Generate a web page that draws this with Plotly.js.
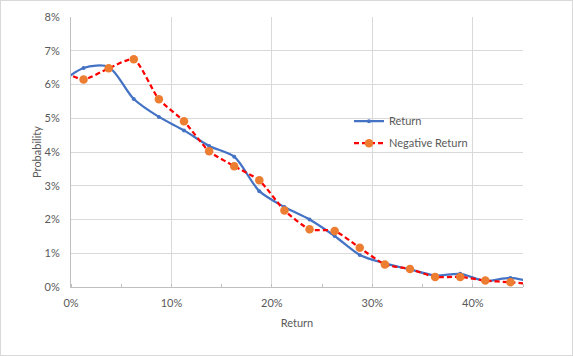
<!DOCTYPE html>
<html>
<head>
<meta charset="utf-8">
<script src="https://cdn.plot.ly/plotly-3.0.1.min.js"></script>
<style>
html,body{margin:0;padding:0;background:#fff;}
#chart{width:573px;height:356px;box-sizing:border-box;border:1px solid #d9d9d9;}
</style>
</head>
<body>
<div id="chart"></div>
<script>
// Return bins (fraction); the first and last bins lie just outside the visible axis range
var returnX = [-0.0125, 0.0125, 0.0375, 0.0625, 0.0875, 0.1125, 0.1375, 0.1625, 0.1875, 0.2125, 0.2375, 0.2625, 0.2875, 0.3125, 0.3375, 0.3625, 0.3875, 0.4125, 0.4375, 0.4625];
// Probability of Return
var returnProb = [0.0600, 0.0649, 0.0652, 0.0557, 0.0504, 0.0464, 0.0418, 0.0386, 0.0284, 0.0237, 0.0200, 0.0151, 0.0095, 0.0070, 0.0052, 0.0034, 0.0039, 0.0018, 0.0027, 0.0012];
// Probability of Negative Return
var negReturnProb = [0.0645, 0.0615, 0.0648, 0.0675, 0.0556, 0.0491, 0.0402, 0.0358, 0.0316, 0.0227, 0.0171, 0.0166, 0.0116, 0.0067, 0.0053, 0.0030, 0.0030, 0.0019, 0.0014, 0.0008];

var yTicks = [0, 0.01, 0.02, 0.03, 0.04, 0.05, 0.06, 0.07, 0.08];
var xTicks = [0, 0.1, 0.2, 0.3, 0.4];

var font = {family: 'Lato, "Open Sans", sans-serif', size: 11, color: '#595959'};

var traces = [
  {
    x: returnX, y: returnProb, name: 'Return', type: 'scatter', mode: 'lines+markers',
    line: {color: '#4472C4', width: 2.25, shape: 'spline', smoothing: 0.8},
    marker: {color: '#4472C4', size: 4},
    legendgroup: 'a'
  },
  {
    x: returnX, y: negReturnProb, name: 'Negative Return', type: 'scatter', mode: 'lines+markers',
    line: {color: '#FF0000', width: 2.25, dash: '5px,3px', shape: 'spline', smoothing: 0.6},
    marker: {color: '#ED7D31', size: 8.5},
    legendgroup: 'b'
  }
];

var layout = {
  width: 571, height: 354,
  margin: {l: 70, r: 49, t: 16, b: 68},
  paper_bgcolor: '#fff', plot_bgcolor: '#fff',
  font: font,
  showlegend: true,
  legend: {x: 0.615, y: 0.668, xanchor: 'left', yanchor: 'top', bgcolor: 'rgba(0,0,0,0)',
           font: font, tracegroupgap: 3, traceorder: 'grouped'},
  xaxis: {
    range: [0, 0.45], tickvals: xTicks, tickformat: '.0%',
    showgrid: true, gridcolor: '#d9d9d9', gridwidth: 1,
    showline: true, linecolor: '#bfbfbf', linewidth: 1,
    zeroline: false, ticks: '', ticklabelstandoff: 6,
    minor: {dtick: 0.05, tick0: 0, ticks: 'inside', ticklen: 3, tickcolor: '#bfbfbf', showgrid: false},
    title: {text: 'Return', font: font, standoff: 11},
    tickfont: font, fixedrange: true
  },
  yaxis: {
    range: [0, 0.08], tickvals: yTicks, tickformat: '.0%',
    showgrid: true, gridcolor: '#d9d9d9', gridwidth: 1,
    showline: true, linecolor: '#bfbfbf', linewidth: 1,
    zeroline: false, ticks: '', ticklabelstandoff: 8,
    title: {text: 'Probability', font: font, standoff: 0},
    tickfont: font, fixedrange: true
  }
};

Plotly.newPlot('chart', traces, layout, {displayModeBar: false, staticPlot: true});
</script>
</body>
</html>
